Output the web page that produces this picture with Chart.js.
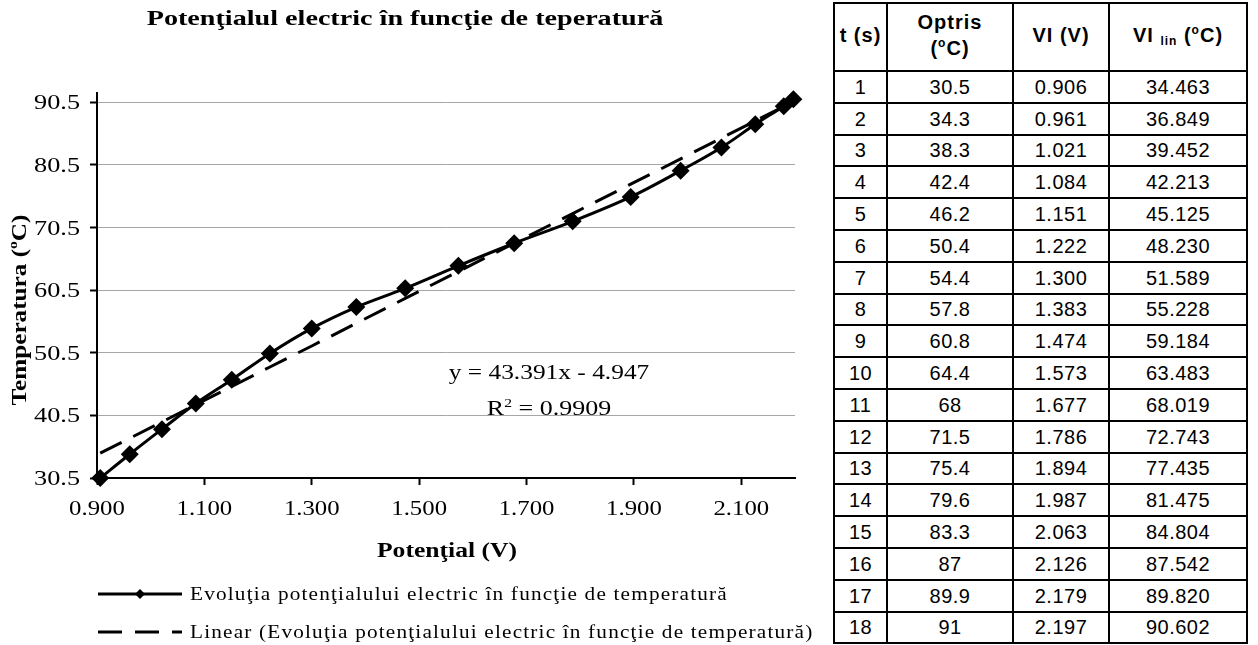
<!DOCTYPE html>
<html><head><meta charset="utf-8">
<script src="https://cdn.jsdelivr.net/npm/chart.js@4"></script>
<style>
html,body{margin:0;padding:0;background:#fff;width:1258px;height:645px;overflow:hidden;}
#wrap{position:absolute;left:0;top:0;width:830px;height:645px;}
#tbl{position:absolute;left:833px;top:2px;border-collapse:collapse;table-layout:fixed;font-family:"Liberation Sans",Arial,sans-serif;color:#000;}
#tbl td,#tbl th{border:2px solid #000;padding:0;text-align:center;font-size:20px;line-height:1;letter-spacing:0.5px;white-space:nowrap;overflow:visible;}
#tbl th{font-weight:bold;font-size:20px;line-height:26px;letter-spacing:1px;padding-bottom:5px;}
#tbl sup{font-size:12px;vertical-align:8px;line-height:0;}
#tbl sub{font-size:12px;vertical-align:-3px;line-height:0;}
</style></head>
<body>
<div id="wrap"><canvas id="c" width="830" height="645"></canvas></div>
<table id="tbl">
<colgroup><col style="width:53px"><col style="width:126px"><col style="width:96px"><col style="width:138px"></colgroup>
<thead><tr style="height:68px"><th>t (s)</th><th>Optris<br>(<sup>o</sup>C)</th><th>VI (V)</th><th>VI <sub>lin</sub> (<sup>o</sup>C)</th></tr></thead>
<tbody id="tb"></tbody>
</table>
<script>
// ---- data ----
const timeS  = [1,2,3,4,5,6,7,8,9,10,11,12,13,14,15,16,17,18];
const optris = [30.5,34.3,38.3,42.4,46.2,50.4,54.4,57.8,60.8,64.4,68,71.5,75.4,79.6,83.3,87,89.9,91];
const viV    = [0.906,0.961,1.021,1.084,1.151,1.222,1.300,1.383,1.474,1.573,1.677,1.786,1.894,1.987,2.063,2.126,2.179,2.197];
const viLin  = [34.463,36.849,39.452,42.213,45.125,48.230,51.589,55.228,59.184,63.483,68.019,72.743,77.435,81.475,84.804,87.542,89.820,90.602];
const xTicks = [0.9,1.1,1.3,1.5,1.7,1.9,2.1];
const yTicks = [30.5,40.5,50.5,60.5,70.5,80.5,90.5];
const chartTitle = 'Potenţialul electric în funcţie de teperatură';
const xTitle = 'Potenţial (V)';
const seriesLabel = 'Evoluţia potenţialului electric în funcţie de temperatură';
const trendLabel = 'Linear (Evoluţia potenţialului electric în funcţie de temperatură)';
const eqText = 'y = 43.391x - 4.947';
const r2Text = '0.9909';

// ---- table ----
const tb = document.getElementById('tb');
timeS.forEach((t,i)=>{
  const tr = document.createElement('tr');
  tr.style.height = '31.8px';
  [String(t), String(optris[i]), viV[i].toFixed(3), viLin[i].toFixed(3)].forEach(v=>{
    const td = document.createElement('td'); td.textContent = v; tr.appendChild(td);
  });
  tb.appendChild(tr);
});

// ---- chart ----
const serif = '"Liberation Serif","Times New Roman",serif';
function font(size,bold){return (bold?'bold ':'')+size+'px '+serif;}
// parts: array of [text, isSup]; k = horizontal stretch
function richWidth(ctx, parts, size, bold){
  let w=0;
  parts.forEach(p=>{ctx.font=font(p[1]?Math.round(size*0.62):size,bold); w+=ctx.measureText(p[0]).width;});
  return w;
}
function drawRich(ctx, parts, x, y, size, bold, align, k, baseline){
  k = k||1;
  ctx.save();
  ctx.translate(x,y);
  ctx.scale(k,1);
  const w = richWidth(ctx, parts, size, bold);
  let cx = align==='center'? -w/2 : (align==='right'? -w : 0);
  ctx.textAlign='left'; ctx.textBaseline=baseline||'alphabetic';
  parts.forEach(p=>{
    const s = p[1]?Math.round(size*0.62):size;
    ctx.font=font(s,bold);
    ctx.fillText(p[0], cx, p[1]? -size*0.42 : 0);
    cx += ctx.measureText(p[0]).width;
  });
  ctx.restore();
}
const decor = {
  id:'decor',
  afterDraw(chart){
    const ctx = chart.ctx;
    const xs = chart.scales.x, ys = chart.scales.y;
    ctx.save();
    ctx.fillStyle='#000';
    // tick labels
    yTicks.forEach(v=>{
      drawRich(ctx, [[v.toFixed(1),false]], ys.right-17, ys.getPixelForValue(v)+7, 21, false, 'right', 1.25);
    });
    xTicks.forEach(v=>{
      drawRich(ctx, [[v.toFixed(3),false]], xs.getPixelForValue(v), xs.top+37, 21, false, 'center', 1.18);
    });
    // title
    drawRich(ctx, [[chartTitle,false]], 405, 25, 21, true, 'center', 1.34);
    // x title
    drawRich(ctx, [[xTitle,false]], 447, 557, 20, true, 'center', 1.28);
    // y title
    ctx.save();
    ctx.translate(26, 310);
    ctx.rotate(-Math.PI/2);
    drawRich(ctx, [['Temperatura (',false],['o',true],['C)',false]], 0, 0, 21, true, 'center', 1.2);
    ctx.restore();
    // equation
    drawRich(ctx, [[eqText,false]], 549, 379, 20, false, 'center', 1.27);
    drawRich(ctx, [['R',false],['2',true],[' = '+r2Text,false]], 549, 415, 20, false, 'center', 1.3);
    // legend
    const ds = chart.data.datasets;
    const rows = [{d:ds[1], y:594, text:seriesLabel},{d:ds[0], y:632, text:trendLabel}];
    rows.forEach(r=>{
      ctx.save();
      ctx.strokeStyle='#000'; ctx.lineWidth=3;
      ctx.setLineDash(r.d.borderDash||[]);
      ctx.beginPath(); ctx.moveTo(98, r.y); ctx.lineTo(182, r.y); ctx.stroke();
      ctx.setLineDash([]);
      if(r.d.pointRadius>0){
        ctx.beginPath(); ctx.moveTo(140, r.y-5); ctx.lineTo(145, r.y); ctx.lineTo(140, r.y+5); ctx.lineTo(135, r.y); ctx.closePath(); ctx.fill();
      }
      ctx.restore();
      ctx.save();
      if('letterSpacing' in ctx) ctx.letterSpacing='1px';
      drawRich(ctx, [[r.text,false]], 190, r.y+6, 18, false, 'left', 1.18);
      ctx.restore();
    });
    ctx.restore();
  }
};

new Chart(document.getElementById('c'), {
  type:'scatter',
  data:{datasets:[
    {label:trendLabel, data:viV.map((x,i)=>({x:x,y:viLin[i]})), showLine:true, borderColor:'#000', borderWidth:3, borderDash:[24,13], pointRadius:0, fill:false, tension:0, clip:false},
    {label:seriesLabel, data:viV.map((x,i)=>({x:x,y:optris[i]})), showLine:true, borderColor:'#000', borderWidth:3, pointStyle:'rectRot', pointRadius:9, pointBackgroundColor:'#000', pointBorderColor:'#000', pointBorderWidth:0, tension:0.35, clip:false}
  ]},
  options:{
    responsive:false, animation:false, devicePixelRatio:1,
    layout:{padding:{top:93,right:35,left:0,bottom:0}},
    plugins:{legend:{display:false}, tooltip:{enabled:false}, title:{display:false}},
    scales:{
      x:{type:'linear', min:0.9, max:2.2,
        afterBuildTicks:a=>{a.ticks = xTicks.map(v=>({value:v}));},
        afterFit:a=>{a.height=167;},
        ticks:{display:false},
        grid:{drawOnChartArea:false, tickLength:7, tickColor:'#000', tickWidth:2},
        border:{color:'#000', width:2}},
      y:{type:'linear', min:30.5, max:92,
        afterBuildTicks:a=>{a.ticks = yTicks.map(v=>({value:v}));},
        afterFit:a=>{a.width=97;},
        ticks:{display:false},
        grid:{drawOnChartArea:true, color:'#a6a6a6', lineWidth:1, borderDash:[2,2], tickLength:7, tickColor:'#000', tickWidth:2, tickBorderDash:[]},
        border:{color:'#000', width:2}}
    }
  },
  plugins:[decor]
});
</script>
</body></html>
